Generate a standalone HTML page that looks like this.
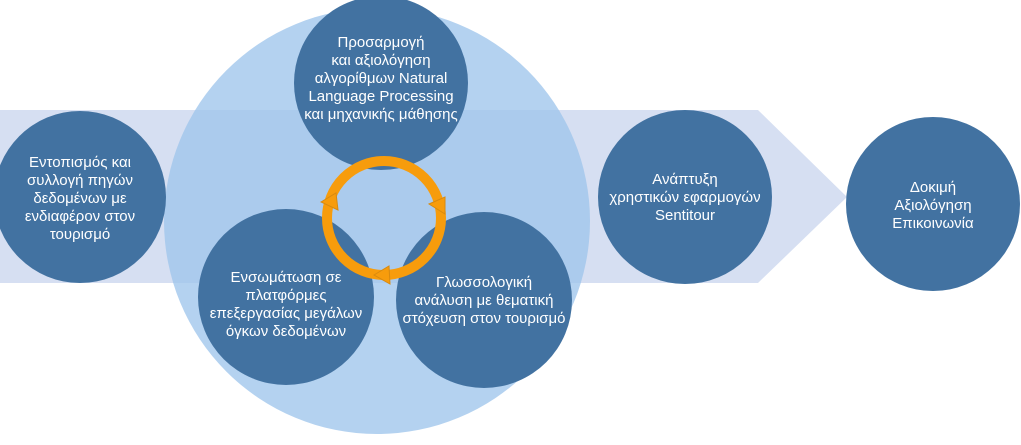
<!DOCTYPE html>
<html><head><meta charset="utf-8"><style>
body{margin:0;background:#fff}
svg text{font-family:"Liberation Sans","DejaVu Sans",sans-serif;font-size:15px;fill:#fff;text-anchor:middle}
</style></head><body>
<svg width="1021" height="440" viewBox="0 0 1021 440" xmlns="http://www.w3.org/2000/svg">
<polygon points="0,110 758,110 847,197 758,283 0,283" fill="#d6dff2"/>
<circle cx="377" cy="221" r="213" fill="#9fc5ec" opacity="0.78"/>
<g fill="#4272a1">
<circle cx="80" cy="197" r="86"/>
<circle cx="381" cy="83" r="87"/>
<circle cx="286" cy="297" r="88"/>
<circle cx="484" cy="300" r="88"/>
<circle cx="685" cy="197" r="87"/>
<circle cx="933" cy="204" r="87"/>
</g>
<circle cx="384" cy="218" r="57" fill="none" stroke="#f79c0c" stroke-width="10"/>
<g fill="#f79c0c" stroke="#d88a10" stroke-width="1">
<polygon points="321,202 336,193 338,210"/>
<polygon points="445,197 445,214 429,204"/>
<polygon points="374,275 389,266 390,284"/>
</g>
<text><tspan x="80" y="167">Εντοπισμός και</tspan><tspan x="80" y="185">συλλογή πηγών</tspan><tspan x="80" y="203">δεδομένων με</tspan><tspan x="80" y="221">ενδιαφέρον στον</tspan><tspan x="80" y="239">τουρισμό</tspan></text>
<text><tspan x="381" y="47">Προσαρμογή</tspan><tspan x="381" y="65">και αξιολόγηση</tspan><tspan x="381" y="83">αλγορίθμων Natural</tspan><tspan x="381" y="101">Language Processing</tspan><tspan x="381" y="119">και μηχανικής μάθησης</tspan></text>
<text><tspan x="286" y="282">Ενσωμάτωση σε</tspan><tspan x="286" y="300">πλατφόρμες</tspan><tspan x="286" y="318">επεξεργασίας μεγάλων</tspan><tspan x="286" y="336">όγκων δεδομένων</tspan></text>
<text><tspan x="484" y="287">Γλωσσολογική</tspan><tspan x="484" y="305">ανάλυση με θεματική</tspan><tspan x="484" y="323">στόχευση στον τουρισμό</tspan></text>
<text><tspan x="685" y="184">Ανάπτυξη</tspan><tspan x="685" y="202">χρηστικών εφαρμογών</tspan><tspan x="685" y="220">Sentitour</tspan></text>
<text><tspan x="933" y="192">Δοκιμή</tspan><tspan x="933" y="210">Αξιολόγηση</tspan><tspan x="933" y="228">Επικοινωνία</tspan></text>
</svg>
</body></html>
